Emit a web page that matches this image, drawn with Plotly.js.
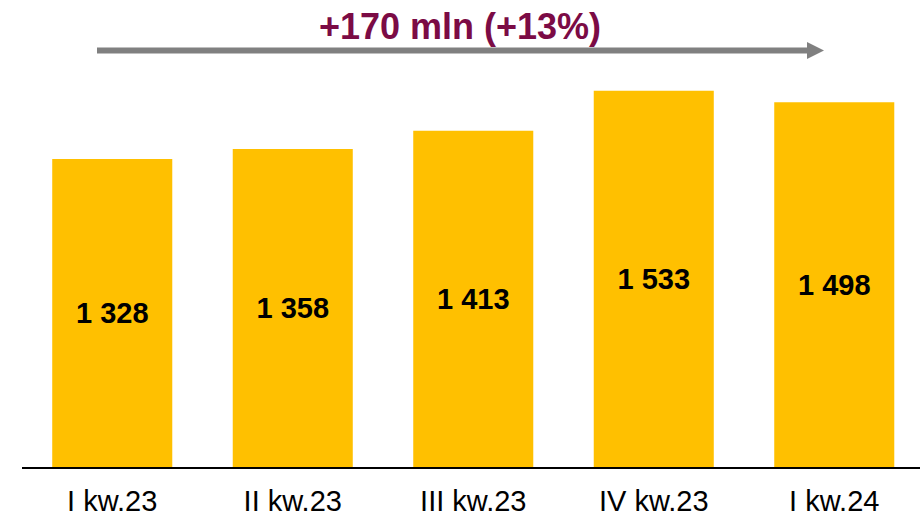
<!DOCTYPE html>
<html>
<head>
<meta charset="utf-8">
<script src="https://cdn.plot.ly/plotly-3.0.1.min.js"></script>
<style>
  html, body { margin: 0; padding: 0; background: #fff; }
  #chart { width: 920px; height: 517px; }
</style>
</head>
<body>
<div id="chart"></div>
<script>
// quarters and values (mln)
var quarters = ['I kw.23', 'II kw.23', 'III kw.23', 'IV kw.23', 'I kw.24'];
var values = [1328, 1358, 1413, 1533, 1498];
var headline = '+170 mln (+13%)';

// value axis does not start at zero in the original slide
var axisMin = 404, axisMax = 1625;

// plot box in pixels, used to place the arrow
var L = 22, R = 0, T = 60, B = 50, W = 920, H = 517;
var pw = W - L - R, ph = H - T - B;
function px(x) { return (x - L) / pw; }
function py(y) { return (H - B - y) / ph; }

function spaced(v) {
    return String(v).replace(/\B(?=(\d{3})+(?!\d))/g, ' ');
}

var bars = {
    x: quarters,
    y: values.map(function(v) { return v - axisMin; }),
    base: axisMin,
    type: 'bar',
    marker: {color: '#FFC000'},
    text: values.map(spaced),
    textposition: 'inside',
    insidetextanchor: 'middle',
    textfont: {family: 'Liberation Sans, Arial, sans-serif', size: 29, color: '#000', weight: 'bold'},
    hoverinfo: 'none'
};

var layout = {
    width: W,
    height: H,
    margin: {l: L, r: R, t: T, b: B},
    paper_bgcolor: '#fff',
    plot_bgcolor: '#fff',
    showlegend: false,
    bargap: 0.335,
    title: {
        text: headline,
        font: {family: 'Liberation Sans, Arial, sans-serif', size: 36, color: '#7B0B45', weight: 'bold'},
        x: 0.5,
        xref: 'container',
        xanchor: 'center',
        y: 1 - 26 / H,
        yref: 'container',
        yanchor: 'middle'
    },
    xaxis: {
        type: 'category',
        range: [-0.5, 4.475],
        showline: true,
        linecolor: '#000',
        linewidth: 2,
        ticks: '',
        ticklabelstandoff: 7,
        showgrid: false,
        zeroline: false,
        tickfont: {family: 'Liberation Sans, Arial, sans-serif', size: 29, color: '#000'}
    },
    yaxis: {
        range: [axisMin, axisMax],
        visible: false,
        showgrid: false,
        zeroline: false
    },
    shapes: [
        // grey trend arrow
        {type: 'line', xref: 'paper', yref: 'paper',
         x0: px(97), x1: px(809), y0: py(50.5), y1: py(50.5),
         line: {color: '#808080', width: 6}},
        {type: 'path', xref: 'paper', yref: 'paper',
         path: 'M' + px(807) + ',' + py(42) + ' L' + px(824) + ',' + py(50.5) +
               ' L' + px(807) + ',' + py(59) + ' Z',
         fillcolor: '#808080', line: {width: 0}}
    ]
};

Plotly.newPlot('chart', [bars], layout, {displayModeBar: false, staticPlot: true});
</script>
</body>
</html>
